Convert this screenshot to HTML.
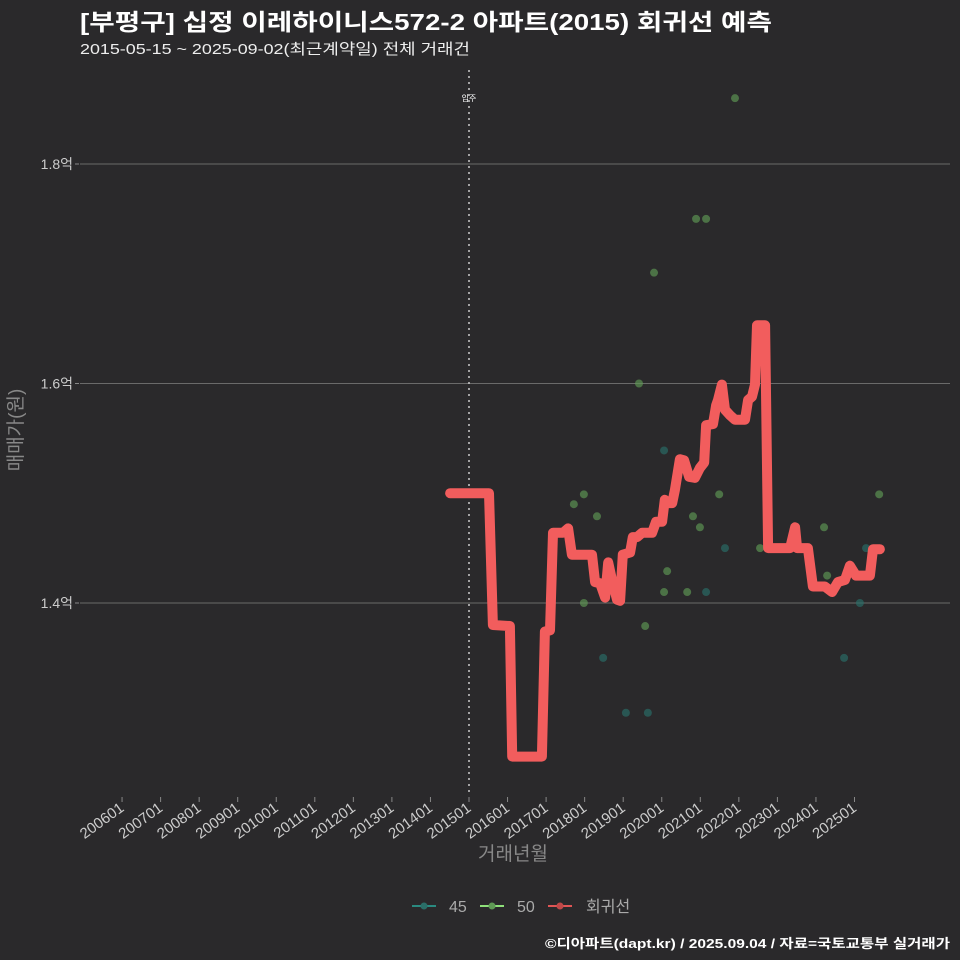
<!DOCTYPE html>
<html><head><meta charset="utf-8"><style>
body{margin:0;background:#2a292b;}
svg{display:block;font-family:"Liberation Sans","Noto Sans CJK KR",sans-serif;}
</style></head><body>
<svg id="c" width="960" height="960">
<rect width="960" height="960" fill="#2a292b"/>
<text x="80" y="30" fill="#fff" font-size="23" font-weight="bold" textLength="692" lengthAdjust="spacingAndGlyphs">[부평구] 십정 이레하이니스572-2 아파트(2015) 회귀선 예측</text>
<text x="80" y="54" fill="#eee" font-size="15" textLength="390" lengthAdjust="spacingAndGlyphs">2015-05-15 ~ 2025-09-02(최근계약일) 전체 거래건</text>
<g id="grid"></g>
<g id="xaxis"></g>
<g id="pts"></g>
<g id="ln"></g>
<text x="513" y="860" fill="#888" font-size="19" text-anchor="middle">거래년월</text>
<text transform="translate(22,430) rotate(-90)" fill="#888" font-size="19" text-anchor="middle">매매가(원)</text>
<g>
<g><line x1="412" y1="906" x2="436" y2="906" stroke="#2a8a80" stroke-width="2"/><circle cx="424" cy="906" r="3.5" fill="#2a6e68"/><text x="449" y="912" fill="#aaa" font-size="16">45</text></g>
<g><line x1="480" y1="906" x2="504" y2="906" stroke="#8ee07a" stroke-width="2"/><circle cx="492" cy="906" r="3.5" fill="#5f9a55"/><text x="517" y="912" fill="#aaa" font-size="16">50</text></g>
<g><line x1="548" y1="906" x2="572" y2="906" stroke="#e05555" stroke-width="2"/><circle cx="560" cy="906" r="3.5" fill="#c04848"/><text x="586" y="912" fill="#aaa" font-size="16">회귀선</text></g>
</g>
<text x="950" y="948" fill="#fff" font-size="13" font-weight="bold" text-anchor="end" textLength="405" lengthAdjust="spacingAndGlyphs">©디아파트(dapt.kr) / 2025.09.04 / 자료=국토교통부 실거래가</text>
</svg>
<script>
const yTicks=[1.4,1.6,1.8];
const yTickLabels=["1.4억","1.6억","1.8억"];
const xTickYears=[2006,2007,2008,2009,2010,2011,2012,2013,2014,2015,2016,2017,2018,2019,2020,2021,2022,2023,2024,2025];
const lineT=[2014.51,2015.52,2015.62,2016.06,2016.12,2016.89,2016.97,2017.10,2017.18,2017.44,2017.57,2017.67,2018.19,2018.27,2018.40,2018.53,2018.61,2018.71,2018.84,2018.92,2018.99,2019.18,2019.25,2019.36,2019.49,2019.75,2019.85,2020.01,2020.08,2020.16,2020.27,2020.34,2020.47,2020.58,2020.71,2020.86,2020.99,2021.10,2021.15,2021.33,2021.41,2021.46,2021.56,2021.64,2021.77,2021.90,2022.16,2022.24,2022.34,2022.42,2022.47,2022.68,2022.76,2023.33,2023.46,2023.51,2023.79,2023.92,2024.23,2024.42,2024.57,2024.75,2024.88,2025.04,2025.40,2025.48,2025.66];
const lineV=[1.500,1.500,1.380,1.379,1.260,1.260,1.374,1.375,1.464,1.464,1.468,1.444,1.444,1.419,1.418,1.405,1.437,1.421,1.403,1.402,1.444,1.446,1.460,1.460,1.464,1.464,1.474,1.474,1.494,1.491,1.491,1.503,1.531,1.530,1.515,1.514,1.523,1.528,1.562,1.563,1.580,1.585,1.599,1.576,1.571,1.567,1.567,1.585,1.588,1.599,1.653,1.653,1.450,1.450,1.469,1.450,1.450,1.415,1.415,1.410,1.419,1.421,1.434,1.425,1.425,1.449,1.449];
const ptT=[2017.72,2017.98,2018.32,2017.98,2018.48,2019.07,2019.64,2019.57,2019.41,2019.80,2020.06,2020.14,2020.06,2020.66,2020.81,2020.99,2020.89,2021.15,2021.15,2021.49,2021.64,2021.90,2022.55,2024.21,2024.29,2024.73,2025.14,2025.30,2025.64];
const ptV=[1.490,1.499,1.479,1.400,1.350,1.300,1.300,1.379,1.600,1.701,1.539,1.429,1.410,1.410,1.479,1.469,1.750,1.750,1.410,1.499,1.450,1.860,1.450,1.469,1.425,1.350,1.400,1.450,1.499];
const ptArea=[50,50,50,50,45,45,45,50,50,50,45,50,50,50,50,50,50,50,45,50,45,50,50,50,50,45,45,45,50];
const moveInYear=2015;
const X=t=>469+(t-2015)*38.55;
const Y=v=>603-(v-1.4)*1097.5;
const NS="http://www.w3.org/2000/svg";
function mk(tag,attrs,parent){const e=document.createElementNS(NS,tag);for(const k in attrs)e.setAttribute(k,attrs[k]);parent.appendChild(e);return e;}
const grid=document.getElementById('grid');
yTicks.forEach((v,i)=>{
 const l=mk('line',{x1:80,x2:950,y1:Y(v),y2:Y(v),stroke:'#6a6a6a','stroke-width':1},grid);
 
 
 const tk=mk('line',{x1:75,x2:79,y1:Y(v),y2:Y(v),stroke:'#888'},grid);
 
 
 const t=mk('text',{x:73,y:Y(v)+5,fill:'#ccc','font-size':14,'text-anchor':'end'},grid);
 t.textContent=yTickLabels[i];
 
 
});
const mv=mk('line',{x1:X(moveInYear),x2:X(moveInYear),y1:70,y2:792,stroke:'#ccc','stroke-width':1.5,'stroke-dasharray':'2,4'},grid);


const mvt=mk('text',{x:X(moveInYear),y:101,fill:'#fff','font-size':8,'text-anchor':'middle'},grid);
mvt.textContent='입주';


const xa=document.getElementById('xaxis');
xTickYears.forEach(y=>{
 const x=X(y);
 const tk=mk('line',{x1:x,x2:x,y1:797,y2:802,stroke:'#888'},xa);
 
 
 const t=mk('text',{transform:`translate(${x+3},${810}) rotate(-36)`,fill:'#ccc','font-size':15,'text-anchor':'end'},xa);
 t.textContent=y+'01';
 
 
});
const pts=document.getElementById('pts');
ptT.forEach((t,i)=>{
 const c=mk('circle',{cx:X(t),cy:Y(ptV[i]),r:4,fill:ptArea[i]==45?'#2a6e68':'#5f9a55','fill-opacity':0.65},pts);
 
 
});
const d=lineT.map((t,i)=>(i?'L':'M')+X(t).toFixed(1)+','+Y(lineV[i]).toFixed(1)).join(' ');
const p=mk('path',{d:d,fill:'none',stroke:'#f25d5d','stroke-width':10,'stroke-linejoin':'round','stroke-linecap':'round'},document.getElementById('ln'));


</script>
</body></html>
